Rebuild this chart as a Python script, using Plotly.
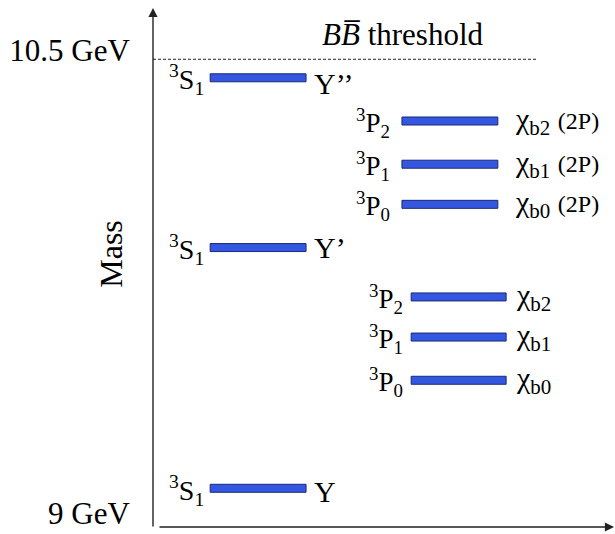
import plotly.graph_objects as go

# Bottomonium levels (GeV, schematic level-diagram positions)
s_names = ["Y", "Y’", "Y’’"]
s_mass = [9.08, 9.86, 10.41]

p2_names = ["χ<sub>b2</sub>", "χ<sub>b1</sub>", "χ<sub>b0</sub>"]
p2_mass = [10.27, 10.13, 10.00]
p2_tag = "(2P)"

p1_names = ["χ<sub>b2</sub>", "χ<sub>b1</sub>", "χ<sub>b0</sub>"]
p1_mass = [9.70, 9.57, 9.43]

p_states = ["<sup>3</sup>P<sub>2</sub>", "<sup>3</sup>P<sub>1</sub>", "<sup>3</sup>P<sub>0</sub>"]
s_state = "<sup>3</sup>S<sub>1</sub>"

bb_threshold = 10.47
tick_vals = [9, 10.5]
tick_text = ["9 GeV", "10.5 GeV"]

# Column layout on the (unlabelled) horizontal axis
S_COL = (1.24, 3.32)
P2_COL = (5.40, 7.48)
P1_COL = (5.60, 7.66)

FONT = "Liberation Serif"
FILL = "#3457e3"
EDGE = "#1b2a6e"
INK = "#222222"

fig = go.Figure()
shapes = []
annotations = []


def level(col, mass):
    shapes.append(dict(type="rect", xref="x", yref="y",
                       x0=col[0], x1=col[1],
                       ysizemode="pixel", yanchor=mass, y0=-4, y1=4,
                       fillcolor=FILL, line=dict(color=EDGE, width=1)))


def label(x, y, text, anchor, xshift, size, yshift=0):
    annotations.append(dict(x=x, y=y, xref="x", yref="y", text=text,
                            showarrow=False, xanchor=anchor, yanchor="middle",
                            xshift=xshift, yshift=yshift,
                            font=dict(family=FONT, size=size, color="black")))


# S-wave levels
s_yshift = [-3, 0, -6]
for name, m, ys in zip(s_names, s_mass, s_yshift):
    level(S_COL, m)
    label(S_COL[0], m, s_state, "right", -4, 28, -2)
    label(S_COL[1], m, name, "left", 6, 30, ys)

# 2P triplet
for name, st, m in zip(p2_names, p_states, p2_mass):
    level(P2_COL, m)
    label(P2_COL[0], m, st, "right", -10, 27, -2)
    label(P2_COL[1], m,
          name + " <span style='font-size:24px'>" + p2_tag + "</span>",
          "left", 15, 30)

# 1P triplet
for name, st, m in zip(p1_names, p_states, p1_mass):
    level(P1_COL, m)
    label(P1_COL[0], m, st, "right", -6, 27, -2)
    label(P1_COL[1], m, name, "left", 8, 30)

# B Bbar threshold
shapes.append(dict(type="line", xref="x", yref="y", x0=0, x1=8.33,
                   y0=bb_threshold, y1=bb_threshold,
                   line=dict(color=INK, width=1, dash="3px,2px")))
annotations.append(dict(x=3.62, y=bb_threshold, xref="x", yref="y",
                        text="<i>BB̅</i> threshold", showarrow=False,
                        xanchor="left", yanchor="bottom", yshift=5,
                        font=dict(family=FONT, size=31, color="black")))

# Axis arrows
annotations.append(dict(x=0, y=1, xref="paper", yref="paper", text="",
                        showarrow=True, ax=0, ay=520, axref="pixel",
                        ayref="pixel", arrowhead=2, arrowsize=1.3,
                        arrowwidth=1.4, arrowcolor=INK))
annotations.append(dict(x=1, y=0, xref="paper", yref="paper", text="",
                        showarrow=True, ax=-456, ay=0, axref="pixel",
                        ayref="pixel", arrowhead=2, arrowsize=1.3,
                        arrowwidth=1.4, arrowcolor=INK))

# Axis title
annotations.append(dict(x=-0.091, y=9.84, xref="paper", yref="y",
                        text="Mass", textangle=-90, showarrow=False,
                        xanchor="center", yanchor="middle",
                        font=dict(family=FONT, size=32, color="black")))

fig.update_layout(
    width=615, height=534,
    margin=dict(l=153, r=1, t=8, b=7),
    paper_bgcolor="white", plot_bgcolor="white",
    showlegend=False,
    shapes=shapes, annotations=annotations,
    xaxis=dict(range=[0, 10], showgrid=False, zeroline=False,
               showticklabels=False, showline=False, ticks=""),
    yaxis=dict(range=[8.9546, 10.6361], showgrid=False, zeroline=False,
               showline=False, tickvals=tick_vals, ticktext=tick_text,
               ticks="outside", ticklen=16, tickcolor="rgba(0,0,0,0)",
               tickfont=dict(family=FONT, size=31, color="black")),
)

fig.write_html("out.html")
